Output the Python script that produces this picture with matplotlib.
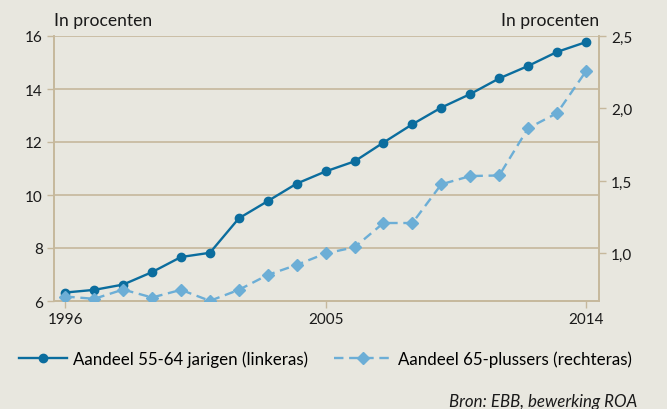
import matplotlib
matplotlib.use("Agg")
import matplotlib.pyplot as plt
from matplotlib.lines import Line2D

# data
years = list(range(1996, 2015))
share_55_64 = [6.32, 6.42, 6.62, 7.09, 7.66, 7.82, 9.12, 9.77, 10.43, 10.89,
               11.27, 11.98, 12.67, 13.30, 13.81, 14.40, 14.87, 15.40, 15.77]
share_65plus = [0.703, 0.687, 0.751, 0.696, 0.749, 0.673, 0.749, 0.852, 0.921, 1.0,
                1.043, 1.21, 1.21, 1.477, 1.534, 1.538, 1.864, 1.968, 2.257]
left_ticks = [6, 8, 10, 12, 14, 16]
right_ticks = [1.0, 1.5, 2.0, 2.5]
right_labels = ["1,0", "1,5", "2,0", "2,5"]
x_ticks = [1996, 2005, 2014]
labels = ["Aandeel 55-64 jarigen (linkeras)", "Aandeel 65-plussers (rechteras)"]

bg = "#e8e7df"
tan = "#c6b89c"
dark = "#0b6d9e"
light = "#6caed6"
dash = (0, (4, 2.4))
W, H = 667, 410

plt.rcParams["font.family"] = ["Lato", "DejaVu Sans"]

fig = plt.figure(figsize=(W / 100, H / 100), dpi=100, facecolor=bg)
renderer = fig.canvas.get_renderer()


def size_for(s, width_px, **kw):
    # font size that makes s about width_px wide
    t = fig.text(0, 0, s, fontsize=10, **kw)
    w = t.get_window_extent(renderer).width
    t.remove()
    return 10 * width_px / w


ax = fig.add_axes([54 / W, 1 - 302 / H, 545 / W, 265 / H])
ax.set_facecolor(bg)
ax2 = ax.twinx()

ax.set_xlim(1995.61, 2014.45)
ax.set_ylim(6, 16)
ax2.set_ylim(0.672, 2.5)

for y in left_ticks[1:]:
    ax.axhline(y, color=tan, lw=1.2, zorder=0)

ax.plot(years, share_55_64, color=dark, lw=1.7, marker="o", ms=6, zorder=3)
ax2.plot(years, share_65plus, color=light, lw=1.7, ls=dash,
         marker="D", ms=6, zorder=3)

for a in (ax, ax2):
    a.spines["top"].set_visible(False)
    for s in ("left", "right", "bottom"):
        a.spines[s].set_color(tan)
        a.spines[s].set_linewidth(1.2)
    a.tick_params(colors=tan, labelcolor="#1a1a1a", labelsize=11, length=5, width=1)

ax.set_yticks(left_ticks)
ax.set_xticks(x_ticks)
ax.set_xticklabels([str(x) for x in x_ticks])
ax2.set_yticks(right_ticks)
ax2.set_yticklabels(right_labels)
ax.tick_params(axis="y", pad=3)
ax.tick_params(axis="x", pad=3)

fs_title = size_for("In procenten", 98)
fig.text(54 / W, 1 - 21 / H, "In procenten", fontsize=fs_title, color="#1a1a1a", va="center")
fig.text(599 / W, 1 - 21 / H, "In procenten", fontsize=fs_title, color="#1a1a1a",
         va="center", ha="right")

# legend: one entry each, sizes in pixels from the reference
fs_leg = (size_for(labels[0], 234) + size_for(labels[1], 235)) / 2
fs_px = fs_leg * 100 / 72
handles = [
    Line2D([], [], color=dark, lw=1.7, marker="o", ms=6),
    Line2D([], [], color=light, lw=1.7, ls=dash, marker="D", ms=6),
]
starts = [19, 334]
lengths = [48, 58]
for h, lab, x0, hl in zip(handles, labels, starts, lengths):
    fig.legend([h], [lab], loc="center left", bbox_to_anchor=(x0 / W, 1 - 360 / H),
               frameon=False, fontsize=fs_leg, handlelength=hl / fs_px,
               handletextpad=6 / fs_px, borderaxespad=0, borderpad=0)

fs_src = size_for("Bron: EBB, bewerking ROA", 188, style="italic")
fig.text(637 / W, 1 - 402 / H, "Bron: EBB, bewerking ROA", fontsize=fs_src,
         style="italic", color="#1a1a1a", ha="right", va="center")

fig.savefig("out.png", dpi=100, facecolor=bg)
